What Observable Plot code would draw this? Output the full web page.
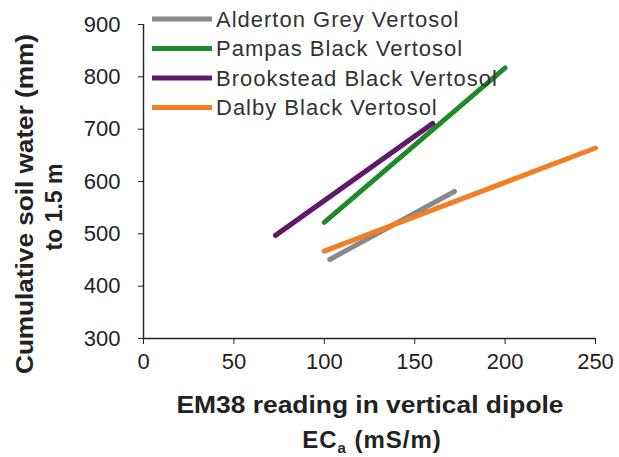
<!DOCTYPE html>
<html>
<head>
<meta charset="utf-8">
<script src="https://cdn.jsdelivr.net/npm/d3@7"></script>
<script src="https://cdn.jsdelivr.net/npm/@observablehq/plot@0.6"></script>
<style>
  html, body { margin: 0; padding: 0; background: #fff; }
  #chart { width: 619px; height: 457px; }
</style>
</head>
<body>
<div id="chart"></div>
<script>
// ---- data ----
const seriesNames = ["Alderton Grey Vertosol", "Pampas Black Vertosol", "Brookstead Black Vertosol", "Dalby Black Vertosol"];
const seriesColors = ["#86898d", "#1f8a28", "#601868", "#f27f24"];
const xStart = [103, 100, 73, 100];
const xEnd   = [172, 200, 160, 250];
const yStart = [451, 522, 497, 467];
const yEnd   = [581, 817, 711, 664];
const xTicks = [0, 50, 100, 150, 200, 250];
const yTicks = [300, 400, 500, 600, 700, 800, 900];
const xTitle = "EM38 reading in vertical dipole";
const xTitle2 = ["EC", "a", " (mS/m)"];
const yTitle = ["Cumulative soil water (mm)", "to 1.5 m"];

const rows = seriesNames.flatMap((s, i) => [
  {series: s, x: xStart[i], y: yStart[i]},
  {series: s, x: xEnd[i], y: yEnd[i]}
]);

const font = "'Liberation Sans', Arial, sans-serif";
const ink = "#222";

const chart = Plot.plot({
  width: 619,
  height: 457,
  marginLeft: 143,
  marginRight: 24,
  marginTop: 24,
  marginBottom: 119,
  style: {fontFamily: font, fontSize: "22px", color: ink, background: "#fff", overflow: "visible"},
  x: {domain: [0, 250], ticks: xTicks, tickSize: 6, tickPadding: 9, label: null},
  y: {domain: [300, 900], ticks: yTicks, tickSize: 5, tickPadding: 18, label: null},
  color: {domain: seriesNames, range: seriesColors},
  marks: [
    Plot.ruleY([300], {stroke: ink, strokeWidth: 1.4}),
    Plot.ruleX([0], {stroke: ink, strokeWidth: 1.4}),
    Plot.line(rows, {x: "x", y: "y", z: "series", stroke: "series", strokeWidth: 5})
  ]
});

document.getElementById("chart").appendChild(chart);

const svg = d3.select(chart);

// legend (inside the plot, top-left)
const leg = svg.append("g").attr("font-family", font).attr("font-size", 22)
  .attr("fill", "#333").attr("text-anchor", "start");
seriesNames.forEach((name, i) => {
  const y = 19 + i * 29.5;
  leg.append("line").attr("x1", 152).attr("x2", 212).attr("y1", y).attr("y2", y)
    .attr("stroke", seriesColors[i]).attr("stroke-width", 5);
  leg.append("text").attr("x", 216).attr("y", y).attr("dy", "0.36em")
    .attr("letter-spacing", 1).text(name);
});

// x axis title (two lines)
const xt = svg.append("g").attr("font-family", font).attr("font-weight", "bold")
  .attr("font-size", 24).attr("fill", ink).attr("text-anchor", "middle");
xt.append("text").attr("x", 370).attr("y", 413)
  .attr("textLength", 387).attr("lengthAdjust", "spacingAndGlyphs").text(xTitle);
const t2 = xt.append("text").attr("x", 372).attr("y", 448).attr("letter-spacing", 1);
t2.append("tspan").text(xTitle2[0]);
t2.append("tspan").attr("font-size", 15).attr("dy", 5).text(xTitle2[1]);
t2.append("tspan").attr("dy", -5).text(xTitle2[2]);

// y axis title (rotated, two lines)
const yt = svg.append("g").attr("font-family", font).attr("font-weight", "bold")
  .attr("font-size", 23).attr("fill", ink).attr("text-anchor", "middle");
yt.append("text").attr("transform", "translate(33,204) rotate(-90)")
  .attr("textLength", 340).attr("lengthAdjust", "spacingAndGlyphs").text(yTitle[0]);
yt.append("text").attr("transform", "translate(62,207) rotate(-90)").text(yTitle[1]);
</script>
</body>
</html>
